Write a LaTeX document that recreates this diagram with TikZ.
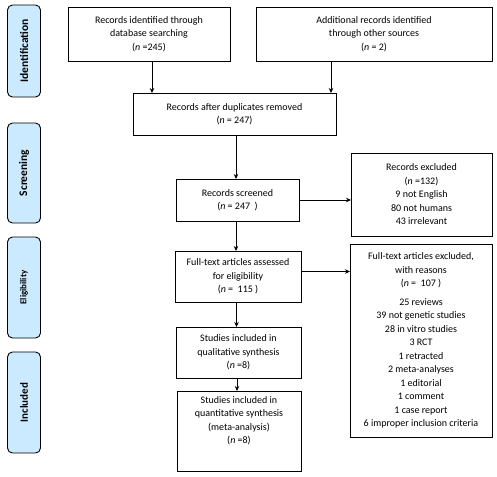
\documentclass[tikz,border=0pt]{standalone}
\usepackage{fontspec}
\setmainfont{Carlito}
\usetikzlibrary{arrows.meta,positioning,shapes}
\definecolor{phase}{RGB}{204,234,255}

\begin{document}
\begin{tikzpicture}[x=1pt,y=-1pt]
\tikzstyle{box}=[draw=black,line width=0.9pt,align=center,inner sep=2pt,outer sep=0pt,
  font=\fontsize{10}{13.5}\selectfont]
\tikzstyle{phasebox}=[draw=black,line width=0.9pt,fill=phase,rounded corners=5pt,
  minimum width=33pt,outer sep=0pt,rotate=90,font=\bfseries]
\tikzstyle{arrow}=[line width=0.9pt,-{Stealth[length=5pt,width=4.5pt]}]
\useasboundingbox (0,0) rectangle (497,476);

% phases
\node [phasebox,minimum height=33pt,minimum width=92pt,font=\bfseries\fontsize{11.5}{12}\selectfont] at (24,51) (ident) {Identification};
\node [phasebox,minimum height=33pt,minimum width=100pt,font=\bfseries\fontsize{11.5}{12}\selectfont] at (24,173) (screen) {Screening};
\node [phasebox,minimum height=33pt,minimum width=101pt,font=\bfseries\fontsize{9}{10}\selectfont] at (24,287.5) (elig) {Eligibility};
\node [phasebox,minimum height=33pt,minimum width=101pt,font=\bfseries\fontsize{11}{12}\selectfont] at (24,402.5) (incl) {Included};

% boxes
\node [box,minimum width=162pt,minimum height=54pt] at (149,34) (db)
  {Records identified through\\database searching\\(\textit{n} =245)};
\node [box,minimum width=236pt,minimum height=54pt] at (374,34) (other)
  {Additional records identified\\through other sources\\(\textit{n} = 2)};
\node [box,minimum width=203pt,minimum height=42pt] at (234.5,114) (dup)
  {Records after duplicates removed\\(\textit{n} = 247)};
\node [box,minimum width=123pt,minimum height=42pt] at (237.5,200) (screened)
  {Records screened\\(\textit{n} = 247~~)};
\node [box,minimum width=141pt,minimum height=83pt] at (421.5,194.5) (excl)
  {Records excluded\\(\textit{n} =132)\\9 not English\\80 not humans\\43 irrelevant};
\node [box,minimum width=126pt,minimum height=51pt] at (238,276.5) (full)
  {Full-text articles assessed\\for eligibility\\(\textit{n} =~~115 )};
\node [box,minimum width=142pt,minimum height=193pt] at (421,340.5) (exclft)
  {Full-text articles excluded,\\with reasons\\(\textit{n} =~~107 )\\[5pt]
   25 reviews\\39 not genetic studies\\28 in vitro studies\\3 RCT\\1 retracted\\
   2 meta-analyses\\1 editorial\\1 comment\\1 case report\\6 improper inclusion criteria};
\node [box,minimum width=125pt,minimum height=51pt] at (238.5,352.5) (qual)
  {Studies included in\\qualitative synthesis\\(\textit{n} =8)};
\node [box,minimum width=124pt,minimum height=80pt] at (239,431) (quant)
  {Studies included in\\quantitative synthesis\\(meta-analysis)\\(\textit{n} =8)\\[8pt]\mbox{}};

% connectors
\draw [arrow] ([xshift=3pt]db.south) -- ([xshift=3pt]db.south |- dup.north);
\draw [arrow] ([xshift=-5pt]dup.north east |- other.south) -- ([xshift=-5pt]dup.north east);
\draw [arrow] ([xshift=1.5pt]dup.south) -- ([xshift=1.5pt]dup.south |- screened.north);
\draw [arrow] (screened.east) -- (screened.east -| excl.west);
\draw [arrow] ([xshift=-1.5pt]screened.south) -- ([xshift=-1.5pt]screened.south |- full.north);
\draw [arrow] ([yshift=5pt]full.east) -- ([yshift=5pt]full.east -| exclft.west);
\draw [arrow] ([xshift=-1.5pt]full.south) -- ([xshift=-1.5pt]full.south |- qual.north);
\draw [arrow] ([xshift=-1.5pt]qual.south) -- ([xshift=-1.5pt]qual.south |- quant.north);
\end{tikzpicture}
\end{document}
